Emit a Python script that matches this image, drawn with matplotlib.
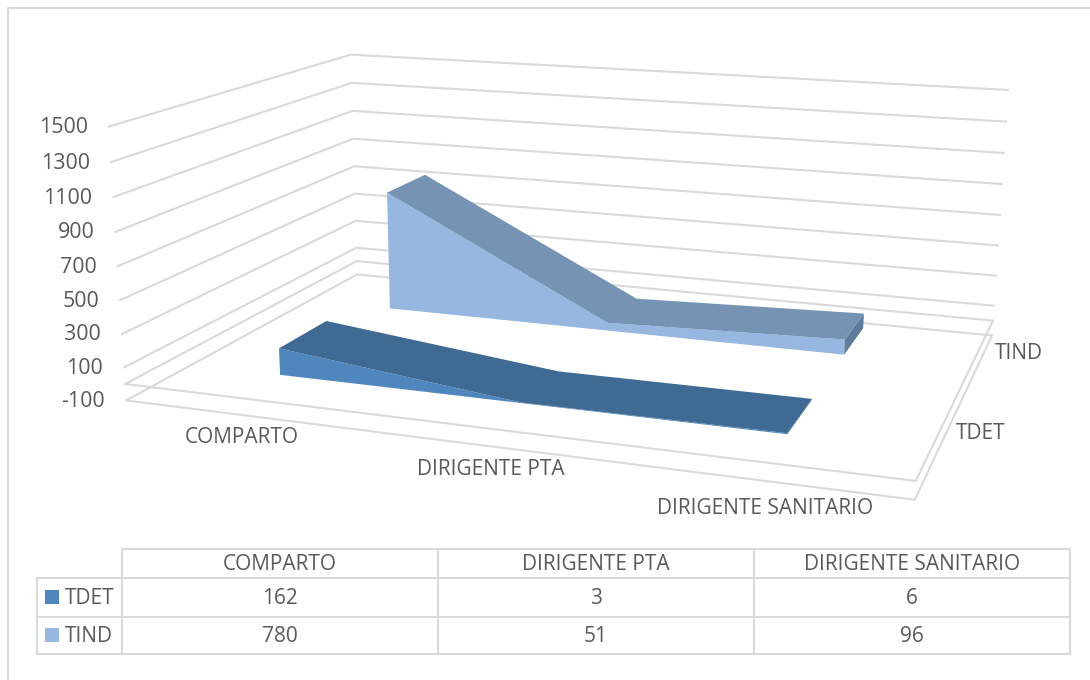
import numpy as np
import matplotlib
matplotlib.use("Agg")
import matplotlib.pyplot as plt
from matplotlib.patches import Polygon, Rectangle

plt.rcParams['font.family'] = ['Open Sans', 'DejaVu Sans']

# data
categories = ['COMPARTO', 'DIRIGENTE PTA', 'DIRIGENTE SANITARIO']
series_names = ['TDET', 'TIND']
tdet = [162, 3, 6]
tind = [780, 51, 96]
value_ticks = [-100, 100, 300, 500, 700, 900, 1100, 1300, 1500]

# colours
GRID = '#D9D9D9'
TEXT = '#595959'
FRONT = {'TDET': '#4F86BD', 'TIND': '#97B7E0'}
TOP = {'TDET': '#3E6A93', 'TIND': '#7693B4'}
SIDE = {'TDET': '#335878', 'TIND': '#5F7A9A'}
FS = 15

# camera matrix fitted on the walls of the reference: x 0-1, value/1000, depth 0-1
CAM = np.array([
    [664.4943, -13.6054, 324.1310, 125.1896],
    [30.7795, -174.6940, -55.1013, 383.9390],
    [-0.137654, -0.024564, 0.259326, 1.0],
])


def project(x, value, z):
    h = CAM @ np.array([x, value / 1000, z, 1.0])
    return h[0] / h[2], h[1] / h[2]


fig = plt.figure(figsize=(10.9, 6.8), dpi=100)
ax = fig.add_axes([0, 0, 1, 1])
ax.set_xlim(0, 1090)
ax.set_ylim(680, 0)
ax.axis('off')


def line(points, color=GRID, lw=1.5, z=1):
    xs, ys = zip(*points)
    ax.plot(xs, ys, color=color, lw=lw, zorder=z, solid_capstyle='projecting')


# chart border (open on the right and the bottom)
line([(8, 680), (8, 8), (1090, 8)])

# =========================
# walls and floors
# =========================
for v in value_ticks + [0]:
    line([project(0, v, 0), project(0, v, 1), project(1, v, 1)])
for v in [-100, 0]:
    line([project(0, v, 0), project(1, v, 0), project(1, v, 1)])

for v in value_ticks:
    x, y = project(0, v, 0)
    ax.text(x - 21, y + 1, str(v), ha='right', va='center', fontsize=FS + 0.4, color=TEXT)

# =========================
# the two areas
# =========================
x_pos = [(i + 0.5) / len(categories) for i in range(len(categories))]
depths = {'TDET': (0.15, 0.35), 'TIND': (0.65, 0.85)}
all_values = {'TDET': tdet, 'TIND': tind}

for name in ['TIND', 'TDET']:
    vals = all_values[name]
    z0, z1 = depths[name]
    front = [project(x, v, z0) for x, v in zip(x_pos, vals)]
    back = [project(x, v, z1) for x, v in zip(x_pos, vals)]
    base = [project(x, 0, z0) for x in x_pos]
    side = [project(x_pos[-1], vals[-1], z0), project(x_pos[-1], vals[-1], z1),
            project(x_pos[-1], 0, z1), project(x_pos[-1], 0, z0)]
    ax.add_patch(Polygon(front + base[::-1], fc=FRONT[name], ec='none', zorder=3))
    ax.add_patch(Polygon(side, fc=SIDE[name], ec='none', zorder=3))
    ax.add_patch(Polygon(front + back[::-1], fc=TOP[name], ec='none', zorder=4))

# =========================
# axis labels
# =========================
for x, c, dy in zip(x_pos, categories, [22, 23, 27]):
    px, py = project(x, -100, 0)
    ax.text(px - 1, py + dy, c, ha='center', va='center', fontsize=FS, color=TEXT)
for name, z, dy in zip(series_names, [0.25, 0.75], [-17, -15]):
    px, py = project(1, -100, z)
    ax.text(px + 43, py + dy, name, ha='center', va='center', fontsize=FS, color=TEXT)

# =========================
# data table
# =========================
col_x = [37, 122, 438, 754, 1070]
row_y = [549, 578, 617, 654]
line([(col_x[1], row_y[0]), (col_x[-1], row_y[0])])
for y in row_y[1:]:
    line([(col_x[0], y), (col_x[-1], y)])
line([(col_x[0], row_y[1]), (col_x[0], row_y[3])])
for x in col_x[1:]:
    line([(x, row_y[0]), (x, row_y[3])])

for i, c in enumerate(categories):
    cx = (col_x[i + 1] + col_x[i + 2]) / 2
    ax.text(cx, 564, c, ha='center', va='center', fontsize=FS, color=TEXT)
    ax.text(cx, 598, str(tdet[i]), ha='center', va='center', fontsize=FS, color=TEXT)
    ax.text(cx, 637, str(tind[i]), ha='center', va='center', fontsize=FS, color=TEXT)

for name, ty in zip(series_names, [597, 635]):
    ax.add_patch(Rectangle((45, ty - 7), 14, 14, fc=FRONT[name], ec='none', zorder=3))
    ax.text(65, ty + 1, name, ha='left', va='center', fontsize=FS, color=TEXT)

fig.savefig('out.png', dpi=100)
